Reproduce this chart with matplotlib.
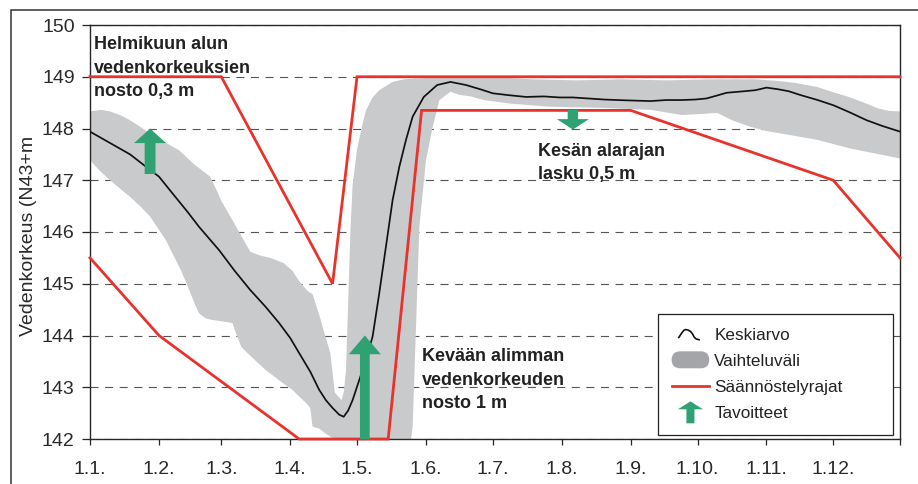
import matplotlib
matplotlib.use("Agg")
import matplotlib.pyplot as plt
import numpy as np
from matplotlib.patches import FancyArrowPatch, FancyBboxPatch, Rectangle, Polygon, ArrowStyle
from matplotlib.lines import Line2D
from matplotlib.legend_handler import HandlerBase

plt.rcParams['font.family'] = ['Liberation Sans', 'DejaVu Sans']
plt.rcParams['lines.scale_dashes'] = False

# ---------------- data ----------------
month_days = [1, 32, 60, 91, 121, 152, 182, 213, 244, 274, 305, 335]
month_labels = ['1.1.', '1.2.', '1.3.', '1.4.', '1.5.', '1.6.', '1.7.', '1.8.',
                '1.9.', '1.10.', '1.11.', '1.12.']
y_ticks = [142, 143, 144, 145, 146, 147, 148, 149, 150]

mean_days = [1, 10, 19, 28, 32, 38, 45, 50, 59, 66, 73, 80, 86, 91, 95, 100, 104,
             107, 110, 113, 115, 117, 119, 122, 125, 128, 131, 134, 137, 140, 143,
             146, 151, 157, 163, 170, 177, 182, 190, 197, 205, 212, 218, 225, 232,
             238, 245, 253, 260, 267, 273, 278, 283, 287, 295, 300, 305, 310, 315,
             320, 328, 335, 342, 350, 357, 365]
mean_vals = [147.94, 147.72, 147.50, 147.20, 147.07, 146.75, 146.38, 146.10, 145.65,
             145.25, 144.88, 144.55, 144.24, 143.95, 143.66, 143.30, 142.95,
             142.75, 142.60, 142.47, 142.43, 142.55, 142.75, 143.14, 143.53, 143.98,
             144.82, 145.72, 146.62, 147.26, 147.78, 148.23, 148.61, 148.84, 148.90,
             148.84, 148.75, 148.68, 148.64, 148.61, 148.62, 148.60, 148.60, 148.58,
             148.56, 148.55, 148.54, 148.53, 148.55, 148.55, 148.56, 148.58, 148.64,
             148.69, 148.72, 148.74, 148.79, 148.76, 148.72, 148.65, 148.55, 148.45,
             148.32, 148.16, 148.05, 147.94]

band_up_days = [1, 6, 10, 15, 19, 24, 28, 34, 41, 48, 55, 58, 60, 65, 70, 73, 77, 82,
                88, 92, 95, 99, 101, 104, 107, 109, 111, 113, 114, 115, 116, 117, 118,
                119, 121, 123, 125, 128, 131, 137, 142, 148, 155, 165, 180, 200, 220,
                240, 260, 280, 300, 310, 318, 328, 335, 342, 350, 355, 360, 365]
band_up_vals = [148.33, 148.36, 148.33, 148.25, 148.16, 148.02, 147.90, 147.75, 147.58,
                147.30, 147.07, 146.80, 146.60, 146.23, 145.85, 145.62, 145.55, 145.50,
                145.40, 145.25, 145.05, 144.85, 144.80, 144.40, 143.95, 143.66, 142.90,
                142.80, 142.75, 142.90, 143.30, 144.60, 146.00, 146.90, 147.60, 148.00,
                148.35, 148.60, 148.74, 148.90, 148.95, 148.97, 148.98, 149.00, 149.00,
                148.95, 148.93, 148.95, 148.93, 148.95, 148.95, 148.92, 148.88, 148.80,
                148.70, 148.61, 148.48, 148.39, 148.34, 148.33]

band_low_days = [1, 5, 10, 15, 19, 24, 28, 32, 35, 38, 42, 45, 48, 50, 53, 56, 61, 65,
                 67, 69, 72, 75, 80, 84, 88, 92, 95, 98, 100, 101, 104, 107, 110, 112,
                 145, 146, 147, 149, 152, 155, 158, 163, 167, 172, 178, 190, 208, 230,
                 253, 267, 275, 283, 290, 298, 305, 312, 320, 328, 335, 342, 350, 357, 365]
band_low_vals = [147.39, 147.20, 147.00, 146.82, 146.68, 146.48, 146.30, 146.04, 145.85,
                 145.59, 145.25, 144.94, 144.62, 144.43, 144.33, 144.30, 144.27, 144.24,
                 144.00, 143.78, 143.65, 143.53, 143.33, 143.20, 143.07, 142.95, 142.82,
                 142.70, 142.60, 142.24, 142.20, 142.10, 142.02, 141.90,
                 141.90, 142.24, 143.53, 146.10, 147.39, 148.03, 148.55, 148.71, 148.65,
                 148.62, 148.55, 148.48, 148.42, 148.40, 148.36, 148.26, 148.28, 148.30,
                 148.15, 148.03, 147.95, 147.90, 147.84, 147.78, 147.70, 147.62, 147.55,
                 147.49, 147.42]

limit_up_days = [1, 60, 110, 121, 365]
limit_up_vals = [149.0, 149.0, 145.0, 149.0, 149.0]
limit_low_days = [1, 32, 95, 135, 150, 244, 335, 365]
limit_low_vals = [145.5, 144.0, 142.0, 142.0, 148.35, 148.35, 147.0, 145.5]

# targets: (day, tail value, tip value)
target_days = [28, 124.5, 218]
target_from = [147.12, 142.0, 148.36]
target_to = [148.0, 144.0, 147.98]

annotations = ["Helmikuun alun\nvedenkorkeuksien\nnosto 0,3 m",
               "Kesän alarajan\nlasku 0,5 m",
               "Kevään alimman\nvedenkorkeuden\nnosto 1 m"]
legend_labels = ["Keskiarvo", "Vaihteluväli", "Säännöstelyrajat", "Tavoitteet"]
y_label = "Vedenkorkeus (N43+m"

# ---------------- style ----------------
RED = '#e8322b'
GREEN = '#2fa172'
BAND = '#c9cacc'
PILL = '#a3a5a8'
DARK = '#262626'

W, H = 918, 484
fig = plt.figure(figsize=(W / 100, H / 100), dpi=100)
ax = fig.add_axes([90 / W, (H - 439) / H, 810 / W, 414 / H])

# outer frame of the figure (partly cropped)
fig.patches.append(Rectangle((11 / W, -0.5), 2.0, (H - 10) / H + 0.5,
                             transform=fig.transFigure, fill=False,
                             edgecolor='#333333', lw=1.1))

ax.set_xlim(1, 365)
ax.set_ylim(142, 150)

# band
ax.fill(np.concatenate([band_up_days, band_low_days[::-1]]),
        np.concatenate([band_up_vals, band_low_vals[::-1]]),
        color=BAND, lw=0, zorder=1)

# regulation limits
ax.plot(limit_up_days, limit_up_vals, color=RED, lw=2.0, zorder=3, clip_on=False,
        solid_joinstyle='miter')
ax.plot(limit_low_days, limit_low_vals, color=RED, lw=2.0, zorder=3, clip_on=False,
        solid_joinstyle='miter')

# mean
ax.plot(mean_days, mean_vals, color='#111111', lw=1.25, zorder=4)

# target arrows
styles = [ArrowStyle.Simple(head_length=10.5, head_width=23, tail_width=7.8),
          ArrowStyle.Simple(head_length=13.5, head_width=23, tail_width=7.0),
          ArrowStyle.Simple(head_length=7.5, head_width=23, tail_width=7.5)]
for d, y0, y1, st in zip(target_days, target_from, target_to, styles):
    ax.add_patch(FancyArrowPatch((d, y0), (d, y1), arrowstyle=st, mutation_scale=1,
                                 shrinkA=0, shrinkB=0, color=GREEN, lw=0,
                                 zorder=5, clip_on=False))

# annotations (top of first line)
ann_pos = [(0.0049, 0.9734), (0.5535, 0.7150), (0.4095, 0.2198)]
for txt, (xa, ya) in zip(annotations, ann_pos):
    ax.text(xa, ya, txt, transform=ax.transAxes, fontsize=13, fontweight='bold',
            color='#222222', ha='left', va='top', linespacing=1.5, zorder=6)

# axes styling
ax.set_xticks(month_days)
ax.set_xticklabels(month_labels)
ax.set_xticks([365], minor=True)
ax.set_yticks(y_ticks)
ax.tick_params(axis='x', which='both', direction='out', length=4.5, width=0.9,
               pad=11, labelsize=14, color=DARK, labelcolor='#2a2a2a')
ax.tick_params(axis='y', direction='out', length=5.5, width=0.9, pad=5.5,
               labelsize=14, color=DARK, labelcolor='#2a2a2a')
for s in ax.spines.values():
    s.set_color(DARK)
    s.set_linewidth(1.0)
ax.yaxis.grid(True, linestyle=(0, (5.8, 4.7)), color='#555555', lw=0.8)
ax.set_axisbelow(True)

ax.set_ylabel(y_label, fontsize=14, color='#2a2a2a')
ax.yaxis.set_label_coords(-0.0654, 0.49)


# legend with custom handles
class MeanGlyph:
    pass


class BandGlyph:
    pass


class ArrowGlyph:
    pass


class HandlerMean(HandlerBase):
    def create_artists(self, legend, orig_handle, xd, yd, w, h, fs, trans):
        fx = np.array([0.19, 0.27, 0.33, 0.37, 0.43, 0.50, 0.55, 0.60, 0.65, 0.73])
        fy = np.array([0.17, 0.55, 0.78, 0.83, 0.80, 0.68, 0.50, 0.20, 0.05, -0.02])
        return [Line2D(-xd + fx * w, -yd + fy * h, color='#111111', lw=1.2,
                       transform=trans)]


class HandlerBand(HandlerBase):
    def create_artists(self, legend, orig_handle, xd, yd, w, h, fs, trans):
        ph = 12.2
        p = FancyBboxPatch((-xd, -yd + h / 2 - ph / 2), w, ph,
                           boxstyle=f'round,pad=0,rounding_size={ph / 2}',
                           facecolor=PILL, edgecolor='none', transform=trans)
        return [p]


class HandlerArrow(HandlerBase):
    def create_artists(self, legend, orig_handle, xd, yd, w, h, fs, trans):
        cx = -xd + w / 2
        cy = -yd + h / 2
        tip, base, bot = cy + 7.9, cy + 2.2, cy - 7.9
        hw, sw = 9.0, 2.9
        pts = [(cx, tip), (cx + hw, base), (cx + sw, base), (cx + sw, bot),
               (cx - sw, bot), (cx - sw, base), (cx - hw, base)]
        return [Polygon(pts, closed=True, facecolor=GREEN, edgecolor='none',
                        transform=trans)]


handles = [MeanGlyph(), BandGlyph(), Line2D([], [], color=RED, lw=2.0), ArrowGlyph()]
leg = ax.legend(handles, legend_labels,
                handler_map={MeanGlyph: HandlerMean(), BandGlyph: HandlerBand(),
                             ArrowGlyph: HandlerArrow()},
                loc='lower left', bbox_to_anchor=(0.7012, 0.00966, 0.2901, 0.292),
                mode='expand', borderaxespad=0, fontsize=12.3, frameon=True,
                fancybox=False, edgecolor='#222222', framealpha=1,
                borderpad=0.8, labelspacing=0.66, handlelength=2.2,
                handletextpad=0.3, handleheight=0.7)
leg.get_frame().set_linewidth(0.9)
for t in leg.get_texts():
    t.set_color('#222222')
leg.set_zorder(10)

fig.savefig('out.png', dpi=100)
